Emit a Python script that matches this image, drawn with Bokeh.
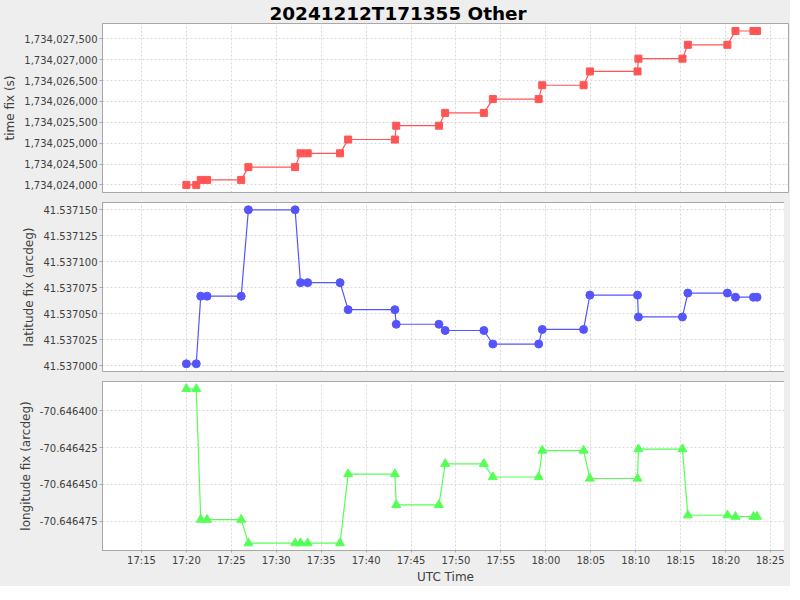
import datetime as dt
from bokeh.plotting import figure
from bokeh.layouts import column
from bokeh.models import Range1d, FixedTicker, NumeralTickFormatter, PrintfTickFormatter, DatetimeTickFormatter
from bokeh.embed import file_html
from bokeh.resources import INLINE

title_text = "20241212T171355 Other"
day = (2024, 12, 12)

# receive times (UTC)
times = ["17:20:00", "17:21:06", "17:21:36", "17:22:18", "17:26:06", "17:26:54",
         "17:32:06", "17:32:42", "17:33:30", "17:37:06", "17:38:00", "17:43:12",
         "17:43:21", "17:48:06", "17:48:48", "17:53:06", "17:54:06", "17:59:12",
         "17:59:36", "18:04:12", "18:04:54", "18:10:12", "18:10:18", "18:15:12",
         "18:15:48", "18:20:12", "18:21:06", "18:23:06", "18:23:30"]

time_fix = [1734024000, 1734024000, 1734024120, 1734024120, 1734024120, 1734024426,
            1734024426, 1734024757, 1734024757, 1734024757, 1734025088, 1734025088,
            1734025419, 1734025419, 1734025726, 1734025726, 1734026057, 1734026057,
            1734026389, 1734026389, 1734026720, 1734026720, 1734027027, 1734027027,
            1734027358, 1734027358, 1734027689, 1734027689, 1734027689]

lat_fix = [41.537002, 41.537002, 41.537067, 41.537067, 41.537067, 41.537150,
           41.537150, 41.537080, 41.537080, 41.537080, 41.537054, 41.537054,
           41.537040, 41.537040, 41.537034, 41.537034, 41.537021, 41.537021,
           41.537035, 41.537035, 41.537068, 41.537068, 41.537047, 41.537047,
           41.537070, 41.537070, 41.537066, 41.537066, 41.537066]

lon_fix = [-70.646385, -70.646385, -70.646474, -70.646474, -70.646474, -70.646490,
           -70.646490, -70.646490, -70.646490, -70.646490, -70.646443, -70.646443,
           -70.646464, -70.646464, -70.646436, -70.646436, -70.646445, -70.646445,
           -70.646427, -70.646427, -70.646446, -70.646446, -70.646426, -70.646426,
           -70.646471, -70.646471, -70.646472, -70.646472, -70.646472]

x_tick_labels = ["17:15", "17:20", "17:25", "17:30", "17:35", "17:40", "17:45", "17:50",
                 "17:55", "18:00", "18:05", "18:10", "18:15", "18:20", "18:25"]
x_start, x_end = "17:10:40", "18:27:00"

time_ticks = [1734024000, 1734024500, 1734025000, 1734025500, 1734026000,
              1734026500, 1734027000, 1734027500]
time_range = (1734023818, 1734027869)
lat_ticks = [41.537000, 41.537025, 41.537050, 41.537075, 41.537100, 41.537125, 41.537150]
lat_range = (41.5369946, 41.537157)
lon_ticks = [-70.646400, -70.646425, -70.646450, -70.646475]
lon_range = (-70.646495, -70.646380)

RED, BLUE, GREEN = "#ff5555", "#5555ff", "#55ff55"
FONT = "DejaVu Sans"


def to_ms(hms):
    parts = [int(v) for v in hms.split(":")]
    while len(parts) < 3:
        parts.append(0)
    d = dt.datetime(*day, *parts, tzinfo=dt.timezone.utc)
    return d.timestamp() * 1000.0


xs = [to_ms(t) for t in times]
x_ticks = [to_ms(t) for t in x_tick_labels]
xr = Range1d(to_ms(x_start), to_ms(x_end))

FRAME_W = 686
FRAME_H = 169


def make_fig(yr, yticks, ylabel, fmt, top, bottom, show_x):
    p = figure(frame_width=FRAME_W, frame_height=FRAME_H, x_axis_type="datetime",
               x_range=xr, y_range=Range1d(*yr), output_backend="svg",
               toolbar_location=None, x_axis_location="below" if show_x else None,
               min_border_left=96, min_border_right=2, min_border_top=top,
               min_border_bottom=bottom)
    p.background_fill_color = "white"
    p.border_fill_color = "#eeeeee"
    p.outline_line_color = "#a8a8a8"
    p.outline_line_width = 1

    ax = p.yaxis[0]
    ax.ticker = FixedTicker(ticks=yticks)
    ax.formatter = fmt
    ax.axis_label = ylabel
    ax.axis_label_text_font = FONT
    ax.axis_label_text_font_size = "12px"
    ax.axis_label_text_font_style = "normal"
    ax.axis_label_text_color = "#404040"
    ax.axis_label_standoff = 4
    ax.major_label_text_font = FONT
    ax.major_label_text_font_size = "10px"
    ax.major_label_text_color = "#404040"
    ax.major_label_standoff = 2
    ax.major_tick_in = 0
    ax.major_tick_out = 3
    ax.minor_tick_in = 0
    ax.minor_tick_out = 0
    ax.axis_line_color = "#a8a8a8"
    ax.major_tick_line_color = "#a8a8a8"

    p.xgrid.ticker = FixedTicker(ticks=x_ticks)
    for g in (p.xgrid[0], p.ygrid[0]):
        g.grid_line_color = "#d8d8d8"
        g.grid_line_dash = "2 2"
        g.grid_line_width = 1

    if show_x:
        xa = p.xaxis[0]
        xa.ticker = FixedTicker(ticks=x_ticks)
        xa.formatter = DatetimeTickFormatter(minsec="%H:%M", minutes="%H:%M",
                                             hourmin="%H:%M", hours="%H:%M")
        xa.axis_label = "UTC Time"
        xa.axis_label_text_font = FONT
        xa.axis_label_text_font_size = "12px"
        xa.axis_label_text_font_style = "normal"
        xa.axis_label_text_color = "#404040"
        xa.axis_label_standoff = 1
        xa.major_label_text_font = FONT
        xa.major_label_text_font_size = "10px"
        xa.major_label_text_color = "#404040"
        xa.major_label_standoff = 2
        xa.major_tick_in = 0
        xa.major_tick_out = 2
        xa.minor_tick_in = 0
        xa.minor_tick_out = 0
        xa.axis_line_color = "#a8a8a8"
        xa.major_tick_line_color = "#a8a8a8"
    return p


p1 = make_fig(time_range, time_ticks, "time fix (s)", NumeralTickFormatter(format="0,0"),
              22, 5, False)
p1.title.text = title_text
p1.title.text_font = FONT
p1.title.text_font_size = "18.4px"
p1.title.text_font_style = "bold"
p1.title.text_color = "black"
p1.title.align = "left"
p1.title.offset = 167
p1.title.standoff = 0
p1.line(xs, time_fix, line_color=RED, line_width=1.2)
p1.scatter(xs, time_fix, marker="square", size=7, fill_color=RED, line_color=RED)

p2 = make_fig(lat_range, lat_ticks, "latitude fix (arcdeg)", PrintfTickFormatter(format="%.6f"),
              5, 5, False)
p2.line(xs, lat_fix, line_color=BLUE, line_width=1.2)
p2.scatter(xs, lat_fix, marker="circle", size=8, fill_color=BLUE, line_color=BLUE)

p3 = make_fig(lon_range, lon_ticks, "longitude fix (arcdeg)", PrintfTickFormatter(format="%.6f"),
              5, 35, True)
p3.line(xs, lon_fix, line_color=GREEN, line_width=1.2)
p3.scatter(xs, lon_fix, marker="triangle", size=9, fill_color=GREEN, line_color=GREEN)

layout = column(p1, p2, p3, spacing=0)
layout.background = "#eeeeee"

open("out.html", "w").write(file_html(layout, INLINE))
